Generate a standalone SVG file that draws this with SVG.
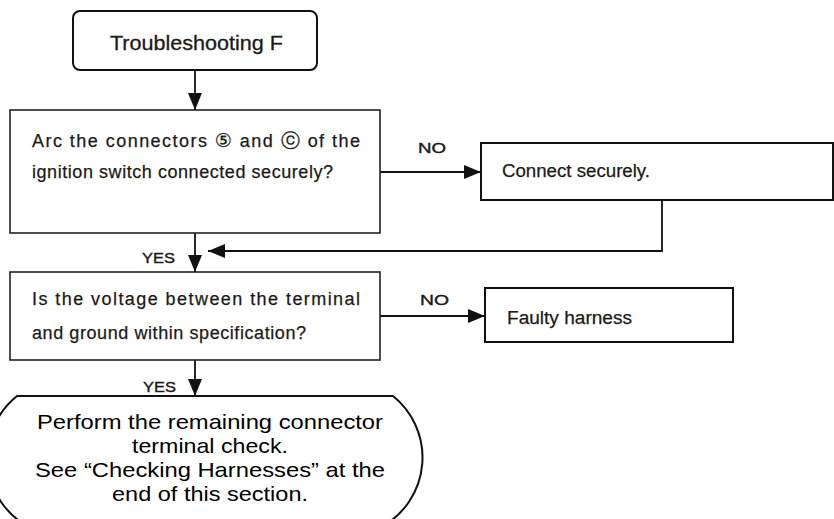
<svg xmlns="http://www.w3.org/2000/svg" width="834" height="519" viewBox="0 0 834 519">
<style>
.box{fill:#fff;stroke:#222;stroke-width:1.6}
.bold{fill:#fff;stroke:#111;stroke-width:2}
.t{font-family:"Liberation Sans",Arial,"DejaVu Sans",sans-serif;fill:#1a1a1a}
.s{font-size:18px;stroke:#1a1a1a;stroke-width:0.25}
.lbl{font-size:15px;stroke:#1a1a1a;stroke-width:0.4}
.big{font-size:21px;fill:#000}
.ln{fill:none;stroke:#111;stroke-width:1.8}
.c{font-family:"DejaVu Sans",sans-serif;font-size:19px}
</style>
<defs>
<marker id="ah" markerUnits="userSpaceOnUse" markerWidth="18" markerHeight="14" refX="17" refY="7" orient="auto">
<path d="M0,0 L17,7 L0,14 Z" fill="#111"/>
</marker>
</defs>
<rect width="834" height="519" fill="#fff"/>
<g id="connectors">
<line class="ln" x1="195" y1="70" x2="195" y2="110" marker-end="url(#ah)"/>
<line class="ln" x1="380" y1="172" x2="481" y2="172" marker-end="url(#ah)"/>
<polyline class="ln" points="662,200 662,251 208,251" marker-end="url(#ah)"/>
<line class="ln" x1="195" y1="233" x2="195" y2="272" marker-end="url(#ah)"/>
<line class="ln" x1="380" y1="316" x2="485" y2="316" marker-end="url(#ah)"/>
<line class="ln" x1="195" y1="360" x2="195" y2="396" marker-end="url(#ah)"/>
<text class="t lbl" x="418" y="153" textLength="28" lengthAdjust="spacingAndGlyphs">NO</text>
<text class="t lbl" x="420" y="305" textLength="29" lengthAdjust="spacingAndGlyphs">NO</text>
<text class="t lbl" x="142" y="263" textLength="33" lengthAdjust="spacingAndGlyphs">YES</text>
<text class="t lbl" x="143" y="392" textLength="33" lengthAdjust="spacingAndGlyphs">YES</text>
</g>
<g id="start">
<rect class="bold" x="73" y="11" width="244" height="59" rx="7"/>
<text class="t" x="110" y="50" font-size="20" stroke="#1a1a1a" stroke-width="0.3" textLength="173" lengthAdjust="spacingAndGlyphs">Troubleshooting F</text>
</g>
<g id="q1">
<rect class="box" x="10" y="110" width="370" height="123"/>
<text class="t s" x="32" y="147" textLength="328" lengthAdjust="spacing">Arc the connectors <tspan class="c">⑤</tspan> and <tspan class="c">ⓒ</tspan> of the</text>
<text class="t s" x="32" y="178" textLength="301" lengthAdjust="spacing">ignition switch connected securely?</text>
</g>
<g id="connect">
<rect class="bold" x="481" y="143" width="352" height="57"/>
<text class="t s" x="502" y="177" textLength="148" lengthAdjust="spacingAndGlyphs">Connect securely.</text>
</g>
<g id="q2">
<rect class="box" x="10" y="272" width="370" height="88"/>
<text class="t s" x="32" y="305" textLength="328" lengthAdjust="spacing">Is the voltage between the terminal</text>
<text class="t s" x="32" y="339" textLength="274" lengthAdjust="spacing">and ground within specification?</text>
</g>
<g id="faulty">
<rect class="bold" x="485" y="288" width="248" height="54"/>
<text class="t s" x="507" y="324" textLength="125" lengthAdjust="spacingAndGlyphs">Faulty harness</text>
</g>
<g id="end">
<path class="bold" d="M17,396 H393 A79,79 0 0 1 383,526 H27 A79,79 0 0 1 17,396 Z"/>
<g class="t big" text-anchor="middle">
<text x="210" y="429" textLength="346" lengthAdjust="spacingAndGlyphs">Perform the remaining connector</text>
<text x="210" y="453" textLength="156" lengthAdjust="spacingAndGlyphs">terminal check.</text>
<text x="210" y="477" textLength="350" lengthAdjust="spacingAndGlyphs">See “Checking Harnesses” at the</text>
<text x="210" y="501" textLength="196" lengthAdjust="spacingAndGlyphs">end of this section.</text>
</g>
</g>
</svg>
